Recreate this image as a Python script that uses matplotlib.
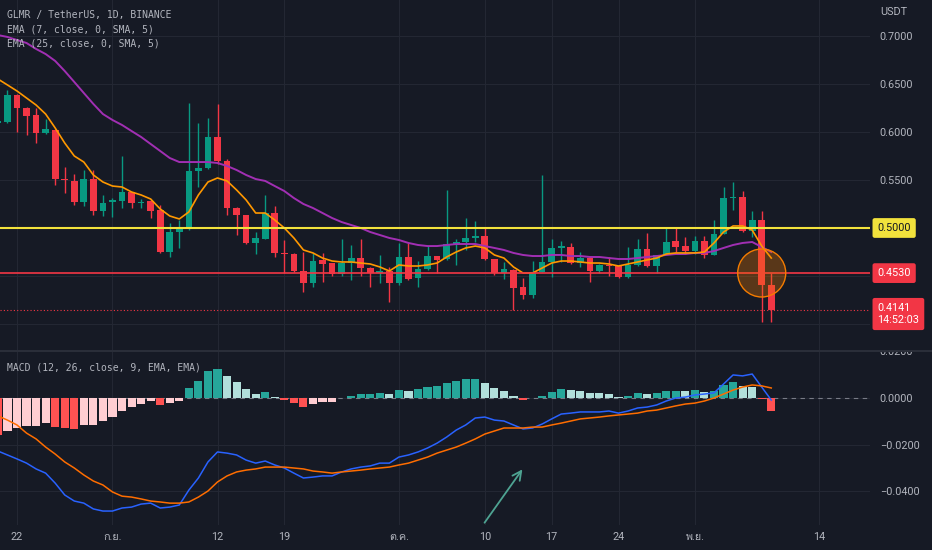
import numpy as np
import pandas as pd
import matplotlib
matplotlib.use("Agg")
import matplotlib.pyplot as plt
from matplotlib import font_manager, ft2font, transforms
from matplotlib.patches import Ellipse, Rectangle
from matplotlib.lines import Line2D

# ---- data (GLMR/USDT daily, 2022-08-20 .. 2022-11-09) ----
dates = pd.date_range("2022-08-20", periods=82, freq="D")

opens = [0.6094, 0.6104, 0.6385, 0.6250, 0.6177, 0.5990, 0.6020, 0.5510, 0.5490, 0.5270,
         0.5510, 0.5177, 0.5270, 0.5280, 0.5375, 0.5260, 0.5280, 0.5190, 0.4750, 0.4960,
         0.4990, 0.5594, 0.5625, 0.5950, 0.5700, 0.5210, 0.5135, 0.4844, 0.4885, 0.5156,
         0.4740, 0.4730, 0.4550, 0.4427, 0.4667, 0.4635, 0.4520, 0.4635, 0.4687, 0.4583,
         0.4531, 0.4550, 0.4427, 0.4698, 0.4480, 0.4573, 0.4708, 0.4677, 0.4833, 0.4854,
         0.4896, 0.4917, 0.4677, 0.4530, 0.4563, 0.4385, 0.4300, 0.4542, 0.4646, 0.4790,
         0.4800, 0.4635, 0.4687, 0.4552, 0.4615, 0.4600, 0.4490, 0.4615, 0.4780, 0.4604,
         0.4719, 0.4865, 0.4810, 0.4760, 0.4865, 0.4719, 0.4937, 0.5312, 0.5323, 0.4969,
         0.5083, 0.4406]
highs = [0.6146, 0.6438, 0.6400, 0.6260, 0.6250, 0.6135, 0.6030, 0.5635, 0.5560, 0.5600,
         0.5600, 0.5340, 0.5310, 0.5750, 0.5380, 0.5300, 0.5290, 0.5240, 0.5050, 0.5080,
         0.6300, 0.6090, 0.6146, 0.6290, 0.5720, 0.5220, 0.5140, 0.4958, 0.5340, 0.5230,
         0.4875, 0.4740, 0.4750, 0.4740, 0.4740, 0.4640, 0.4885, 0.4820, 0.4885, 0.4590,
         0.4720, 0.4590, 0.4844, 0.4844, 0.4656, 0.4810, 0.4710, 0.5396, 0.4885, 0.5104,
         0.5070, 0.5010, 0.4680, 0.4646, 0.4570, 0.4480, 0.4656, 0.5550, 0.4885, 0.4860,
         0.4844, 0.4750, 0.4700, 0.4620, 0.4700, 0.4610, 0.4800, 0.4885, 0.4948, 0.4720,
         0.5000, 0.5000, 0.4906, 0.4917, 0.4917, 0.5083, 0.5427, 0.5480, 0.5385, 0.5177,
         0.5177, 0.4530]
lows = [0.6073, 0.6090, 0.6000, 0.5970, 0.5890, 0.5980, 0.5450, 0.5360, 0.5240, 0.5230,
        0.5135, 0.5125, 0.5115, 0.5210, 0.5210, 0.5210, 0.5100, 0.4740, 0.4700, 0.4790,
        0.4980, 0.5430, 0.5615, 0.5667, 0.5135, 0.4930, 0.4830, 0.4730, 0.4885, 0.4700,
        0.4530, 0.4540, 0.4330, 0.4385, 0.4437, 0.4500, 0.4500, 0.4460, 0.4500, 0.4385,
        0.4427, 0.4230, 0.4406, 0.4458, 0.4385, 0.4560, 0.4530, 0.4667, 0.4615, 0.4770,
        0.4854, 0.4667, 0.4510, 0.4469, 0.4146, 0.4260, 0.4270, 0.4542, 0.4490, 0.4646,
        0.4630, 0.4590, 0.4437, 0.4530, 0.4500, 0.4480, 0.4480, 0.4600, 0.4594, 0.4530,
        0.4719, 0.4750, 0.4729, 0.4729, 0.4688, 0.4719, 0.4937, 0.5190, 0.4960, 0.4906,
        0.4020, 0.4020]
closes = [0.6115, 0.6385, 0.6250, 0.6167, 0.5990, 0.6030, 0.5510, 0.5500, 0.5270, 0.5510,
          0.5177, 0.5260, 0.5290, 0.5375, 0.5260, 0.5270, 0.5177, 0.4750, 0.4960, 0.4990,
          0.5594, 0.5625, 0.5950, 0.5700, 0.5210, 0.5135, 0.4844, 0.4896, 0.5156, 0.4740,
          0.4729, 0.4550, 0.4427, 0.4656, 0.4625, 0.4520, 0.4635, 0.4687, 0.4583, 0.4530,
          0.4552, 0.4427, 0.4698, 0.4469, 0.4573, 0.4708, 0.4667, 0.4833, 0.4854, 0.4896,
          0.4917, 0.4677, 0.4530, 0.4573, 0.4375, 0.4300, 0.4542, 0.4646, 0.4790, 0.4810,
          0.4635, 0.4687, 0.4552, 0.4615, 0.4600, 0.4490, 0.4615, 0.4780, 0.4604, 0.4719,
          0.4854, 0.4800, 0.4760, 0.4865, 0.4719, 0.4937, 0.5312, 0.5320, 0.4969, 0.5083,
          0.4406, 0.4141]

ema7 = [0.6552, 0.6490, 0.6427, 0.6354, 0.6281, 0.6187, 0.6042, 0.5885, 0.5750, 0.5687,
        0.5552, 0.5479, 0.5437, 0.5427, 0.5375, 0.5344, 0.5302, 0.5198, 0.5125, 0.5094,
        0.5167, 0.5344, 0.5479, 0.5521, 0.5490, 0.5396, 0.5292, 0.5156, 0.5156, 0.5083,
        0.5000, 0.4896, 0.4771, 0.4740, 0.4687, 0.4656, 0.4646, 0.4646, 0.4635, 0.4625,
        0.4594, 0.4552, 0.4615, 0.4604, 0.4604, 0.4615, 0.4635, 0.4698, 0.4750, 0.4792,
        0.4812, 0.4792, 0.4719, 0.4687, 0.4594, 0.4531, 0.4531, 0.4583, 0.4635, 0.4656,
        0.4656, 0.4646, 0.4635, 0.4635, 0.4625, 0.4604, 0.4625, 0.4646, 0.4667, 0.4687,
        0.4729, 0.4740, 0.4740, 0.4740, 0.4750, 0.4844, 0.4958, 0.5021, 0.5021, 0.4979,
        0.4812, 0.4687]
ema25 = [0.7010, 0.6990, 0.6958, 0.6927, 0.6865, 0.6812, 0.6740, 0.6635, 0.6521, 0.6406,
         0.6292, 0.6187, 0.6125, 0.6073, 0.6010, 0.5948, 0.5875, 0.5802, 0.5729, 0.5687,
         0.5687, 0.5687, 0.5687, 0.5677, 0.5646, 0.5604, 0.5552, 0.5510, 0.5490, 0.5437,
         0.5385, 0.5312, 0.5250, 0.5208, 0.5156, 0.5104, 0.5062, 0.5031, 0.5000, 0.4958,
         0.4927, 0.4896, 0.4875, 0.4844, 0.4823, 0.4812, 0.4812, 0.4823, 0.4833, 0.4833,
         0.4833, 0.4812, 0.4792, 0.4771, 0.4740, 0.4719, 0.4708, 0.4708, 0.4719, 0.4719,
         0.4708, 0.4708, 0.4698, 0.4698, 0.4687, 0.4677, 0.4677, 0.4687, 0.4698, 0.4708,
         0.4719, 0.4729, 0.4729, 0.4740, 0.4740, 0.4760, 0.4792, 0.4823, 0.4844, 0.4854,
         0.4802, 0.4750]

macd_line = [-0.0228, -0.0245, -0.0262, -0.0280, -0.0305, -0.0323, -0.0366, -0.0417, -0.0443, -0.0452,
             -0.0477, -0.0486, -0.0486, -0.0473, -0.0469, -0.0456, -0.0452, -0.0473, -0.0469, -0.0460,
             -0.0396, -0.0344, -0.0275, -0.0232, -0.0237, -0.0245, -0.0267, -0.0280, -0.0271, -0.0288,
             -0.0301, -0.0323, -0.0344, -0.0340, -0.0335, -0.0335, -0.0318, -0.0305, -0.0297, -0.0292,
             -0.0280, -0.0280, -0.0254, -0.0245, -0.0232, -0.0215, -0.0194, -0.0168, -0.0138, -0.0116,
             -0.0086, -0.0082, -0.0095, -0.0099, -0.0116, -0.0133, -0.0129, -0.0112, -0.0090, -0.0069,
             -0.0065, -0.0060, -0.0060, -0.0060, -0.0056, -0.0065, -0.0056, -0.0043, -0.0039, -0.0030,
             -0.0013, 0.0000, 0.0004, 0.0013, 0.0017, 0.0022, 0.0060, 0.0099, 0.0095, 0.0103,
             0.0047, -0.0009]
signal_line = [-0.0077, -0.0095, -0.0116, -0.0151, -0.0176, -0.0211, -0.0241, -0.0275, -0.0301, -0.0331,
               -0.0357, -0.0374, -0.0404, -0.0422, -0.0426, -0.0434, -0.0443, -0.0447, -0.0452, -0.0452,
               -0.0447, -0.0426, -0.0400, -0.0361, -0.0335, -0.0318, -0.0310, -0.0305, -0.0297, -0.0297,
               -0.0297, -0.0301, -0.0305, -0.0314, -0.0318, -0.0323, -0.0318, -0.0314, -0.0310, -0.0305,
               -0.0301, -0.0297, -0.0288, -0.0280, -0.0267, -0.0254, -0.0237, -0.0224, -0.0211, -0.0194,
               -0.0176, -0.0155, -0.0142, -0.0129, -0.0129, -0.0129, -0.0125, -0.0125, -0.0116, -0.0108,
               -0.0099, -0.0090, -0.0086, -0.0082, -0.0077, -0.0073, -0.0069, -0.0065, -0.0056, -0.0052,
               -0.0043, -0.0034, -0.0026, -0.0022, -0.0013, 0.0000, 0.0017, 0.0034, 0.0047, 0.0056,
               0.0052, 0.0043]
hist = [-0.0159, -0.0142, -0.0128, -0.0119, -0.0119, -0.0109, -0.0123, -0.0128, -0.0135, -0.0116,
        -0.0116, -0.0099, -0.0080, -0.0054, -0.0040, -0.0025, -0.0012, -0.0029, -0.0023, -0.0011,
        0.0042, 0.0075, 0.0118, 0.0125, 0.0096, 0.0070, 0.0037, 0.0019, 0.0025, 0.0006,
        -0.0007, -0.0023, -0.0037, -0.0027, -0.0019, -0.0016, 0.0002, 0.0010, 0.0016, 0.0019,
        0.0023, 0.0016, 0.0036, 0.0031, 0.0037, 0.0047, 0.0052, 0.0065, 0.0074, 0.0080,
        0.0081, 0.0065, 0.0042, 0.0031, 0.0010, -0.0007, 0.0002, 0.0010, 0.0027, 0.0037,
        0.0033, 0.0032, 0.0023, 0.0020, 0.0019, 0.0006, 0.0009, 0.0020, 0.0016, 0.0023,
        0.0031, 0.0032, 0.0031, 0.0033, 0.0026, 0.0031, 0.0056, 0.0070, 0.0052, 0.0046,
        -0.0006, -0.0054]

yellow_level = 0.5000
red_level = 0.4530
last_price = 0.4141
countdown = "14:52:03"
circle_date = "2022-11-08"
circle_price = 0.4531

arrow_from = ("2022-10-10", -0.0546)
arrow_to = ("2022-10-14", -0.0297)

tick_dates = ["2022-08-22", "2022-09-01", "2022-09-12", "2022-09-19", "2022-10-01",
              "2022-10-10", "2022-10-17", "2022-10-24", "2022-11-01", "2022-11-14"]
tick_labels = ["22", "ก.ย.", "12", "19", "ต.ค.", "10", "17", "24", "พ.ย.", "14"]

# 0.40, 0.45 and 0.50 sit under the price tags, so their labels stay hidden
price_ticks = [0.40, 0.45, 0.50, 0.55, 0.60, 0.65, 0.70]
price_tick_labels = ["", "", "", "0.5500", "0.6000", "0.6500", "0.7000"]
macd_ticks = [-0.04, -0.02, 0.0, 0.02]

# ---- style ----
BG = "#161a25"
GRID = "#232733"
TXT = "#b2b5be"
UP = "#089981"
DOWN = "#f23645"
W, H = 932, 550


def find_thai_font():
    for f in font_manager.fontManager.ttflist:
        try:
            cmap = ft2font.FT2Font(f.fname).get_charmap()
        except Exception:
            continue
        if 0x0E01 in cmap and 0x0E22 in cmap and 0x0E15 in cmap:
            return f.name
    return None


thai = find_thai_font()
fams = ["Roboto", "DejaVu Sans"]
tick_fams = ["Roboto"] + ([thai] if thai else []) + ["DejaVu Sans"]
plt.rcParams["font.family"] = fams


def day_pos(d):
    return (pd.Timestamp(d) - dates[0]).days


x = np.arange(len(dates))
o, h, l, c = map(np.array, (opens, highs, lows, closes))
up = c >= o
ccol = np.where(up, UP, DOWN)

fig = plt.figure(figsize=(W / 100, H / 100), dpi=100, facecolor=BG)
ax2 = fig.add_axes([0, 25 / H, 870 / W, 174 / H], facecolor=BG)
ax = fig.add_axes([0, 200 / H, 870 / W, 350 / H], facecolor=BG)

xt = [day_pos(d) for d in tick_dates]
for a in (ax, ax2):
    a.set_xlim(0.22, 91.34)
    for s in a.spines.values():
        s.set_visible(False)
    a.set_xticks(xt)
    a.grid(True, color=GRID, lw=0.8)
    a.set_axisbelow(True)
    a.yaxis.tick_right()
    a.tick_params(axis="y", length=0, pad=7, labelsize=7.8, labelcolor=TXT)

# ---- price panel ----
ax.set_ylim(0.3729, 0.7375)
ax.set_yticks(price_ticks)
ax.set_yticklabels(price_tick_labels)
ax.tick_params(axis="x", length=0, labelbottom=False)

ax.vlines(x, l, h, colors=ccol, lw=1, zorder=3)
ax.bar(x, np.maximum(np.abs(c - o), 0.0011), bottom=np.minimum(o, c), width=0.7,
       color=ccol, linewidth=0, zorder=4)
ax.plot(x, ema25, color="#a12fb3", lw=1.4, zorder=5)
ax.plot(x, ema7, color="#ff9800", lw=1.2, zorder=5)

ax.axhline(yellow_level, color="#f2e23c", lw=1.5, zorder=6)
ax.axhline(red_level, color=DOWN, lw=1.2, zorder=6)
ax.axhline(last_price, color=DOWN, lw=0.8, ls=(0, (1, 2)), zorder=2)

ax.add_patch(Ellipse((day_pos(circle_date), circle_price), 5.03, 0.05,
                     facecolor=(0.96, 0.49, 0.0, 0.3), edgecolor="#f57c00", lw=1, zorder=7))

bt = transforms.blended_transform_factory(ax.transAxes, ax.transData)
tag = dict(transform=bt, ha="left", fontsize=7.8, clip_on=False, zorder=10)
ax.text(1.0085, yellow_level, f"{yellow_level:.4f}", va="center", color="#131722",
        bbox=dict(boxstyle="round,pad=0.45,rounding_size=0.2", fc="#f2e23c", ec="none"), **tag)
ax.text(1.0085, red_level, f"{red_level:.4f}", va="center", color="white",
        bbox=dict(boxstyle="round,pad=0.45,rounding_size=0.2", fc=DOWN, ec="none"), **tag)
ax.annotate(f"{last_price:.4f}\n{countdown}", xy=(1.0085, last_price), xycoords=bt,
            xytext=(0, 5.5), textcoords="offset points", ha="left", va="top",
            fontsize=7.8, color="white", linespacing=1.3, annotation_clip=False, zorder=10,
            bbox=dict(boxstyle="round,pad=0.45,rounding_size=0.2", fc=DOWN, ec="none"))

# ---- MACD panel ----
ax2.set_ylim(-0.0546, 0.0202)
ax2.set_yticks(macd_ticks)
ax2.set_yticklabels([f"{v:.4f}".replace("-", "\u2212") for v in macd_ticks])
ax2.tick_params(axis="x", length=0, pad=5, labelsize=7.8, labelcolor=TXT)
ax2.set_xticklabels(tick_labels)
for lab in ax2.get_xticklabels():
    lab.set_fontfamily(tick_fams)

hcol = []
for i, v in enumerate(hist):
    prev = hist[i - 1] if i else 0.0
    if v >= 0:
        hcol.append("#26a69a" if v > prev else "#b2dfdb")
    else:
        hcol.append("#ff5252" if v < prev else "#ffcdd2")
ax2.axhline(0, color="#787b86", lw=0.8, ls=(0, (4, 4)), zorder=2)
ax2.bar(x, hist, width=0.85, color=hcol, linewidth=0, zorder=3)
ax2.plot(x, macd_line, color="#2962ff", lw=1.1, zorder=4)
ax2.plot(x, signal_line, color="#ff6d00", lw=1.1, zorder=4)
ax2.annotate("", xy=(day_pos(arrow_to[0]) + 0.1, arrow_to[1]),
             xytext=(day_pos(arrow_from[0]) - 0.2, arrow_from[1]),
             arrowprops=dict(arrowstyle="->", color="#4ea392", lw=1.3, mutation_scale=16),
             annotation_clip=False)

# ---- figure furniture ----
fig.add_artist(Rectangle((870 / W, 1 - 350 / H), 1 - 870 / W, 6 / H, transform=fig.transFigure,
                         facecolor=BG, edgecolor="none", zorder=5))
fig.add_artist(Line2D([0, 1], [1 - 350.5 / H] * 2, transform=fig.transFigure,
                      color="#2a2e39", lw=1.5, zorder=6))

mono = dict(family="DejaVu Sans Mono", fontsize=7, color=TXT, va="center", ha="left")
fig.text(7 / W, 1 - 15 / H, "GLMR / TetherUS, 1D, BINANCE", **mono)
fig.text(7 / W, 1 - 29 / H, "EMA (7, close, 0, SMA, 5)", **mono)
fig.text(7 / W, 1 - 43 / H, "EMA (25, close, 0, SMA, 5)", **mono)
fig.text(7 / W, 1 - 367 / H, "MACD (12, 26, close, 9, EMA, EMA)", **mono)
fig.text(880 / W, 1 - 12 / H, "USDT", fontsize=7.8, color=TXT, va="center", ha="left")

fig.savefig("out.png", dpi=100, facecolor=BG)
